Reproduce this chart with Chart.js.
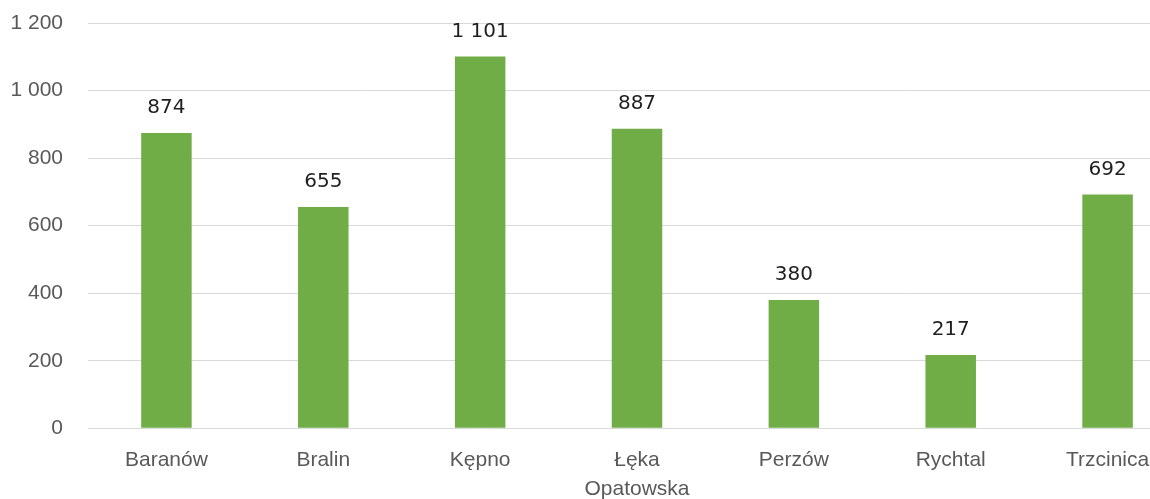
<!DOCTYPE html>
<html>
<head>
<meta charset="utf-8">
<script src="https://cdn.jsdelivr.net/npm/chart.js@4.4.0/dist/chart.umd.min.js"></script>
<style>
  html, body { margin: 0; padding: 0; background: #ffffff; overflow: hidden; }
  #wrap { position: relative; width: 1186px; height: 499px; }
</style>
</head>
<body>
<div id="wrap"><canvas id="c"></canvas></div>
<script>
const categories = ['Baranów', 'Bralin', 'Kępno', ['Łęka', 'Opatowska'], 'Perzów', 'Rychtal', 'Trzcinica'];
const values = [874, 655, 1101, 887, 380, 217, 692];
const yMin = 0;
const yMax = 1200;
const yStep = 200;

function fmt(v) {
  return String(v).replace(/\B(?=(\d{3})+(?!\d))/g, ' ');
}

const valueLabels = {
  id: 'valueLabels',
  afterDatasetsDraw(chart) {
    const ctx = chart.ctx;
    const meta = chart.getDatasetMeta(0);
    ctx.save();
    ctx.font = '20px "DejaVu Sans"';
    ctx.fillStyle = '#1f1f1f';
    ctx.textAlign = 'center';
    ctx.textBaseline = 'middle';
    meta.data.forEach((bar, i) => {
      ctx.fillText(fmt(chart.data.datasets[0].data[i]), bar.x, bar.y - 25);
    });
    ctx.restore();
  }
};

new Chart(document.getElementById('c'), {
  type: 'bar',
  data: {
    labels: categories,
    datasets: [{
      data: values,
      backgroundColor: '#70ad47',
      borderWidth: 0,
      barPercentage: 0.322,
      categoryPercentage: 1
    }]
  },
  options: {
    responsive: true,
    maintainAspectRatio: false,
    animation: false,
    layout: { padding: { top: 23, right: 0, bottom: 0, left: 0 } },
    plugins: {
      legend: { display: false },
      tooltip: { enabled: false }
    },
    scales: {
      x: {
        grid: { display: false, drawTicks: false },
        border: { display: true, color: '#d9d9d9', width: 1 },
        ticks: {
          color: '#595959',
          font: { family: '"Liberation Sans"', size: 21, lineHeight: 1.4 },
          padding: 17,
          maxRotation: 0,
          autoSkip: false
        },
        afterFit(scale) {
          scale.height = 70.7;
          scale.paddingLeft = 0;
          scale.paddingRight = 0;
        }
      },
      y: {
        min: yMin,
        max: yMax,
        grid: { color: '#d9d9d9', drawTicks: false, lineWidth: 1 },
        border: { display: false },
        ticks: {
          stepSize: yStep,
          color: '#595959',
          font: { family: '"Liberation Sans"', size: 21 },
          padding: 25,
          callback: (v) => fmt(v)
        },
        afterFit(scale) {
          scale.width = 88;
          scale.paddingTop = 0;
          scale.paddingBottom = 0;
        }
      }
    }
  },
  plugins: [valueLabels]
});
</script>
</body>
</html>
